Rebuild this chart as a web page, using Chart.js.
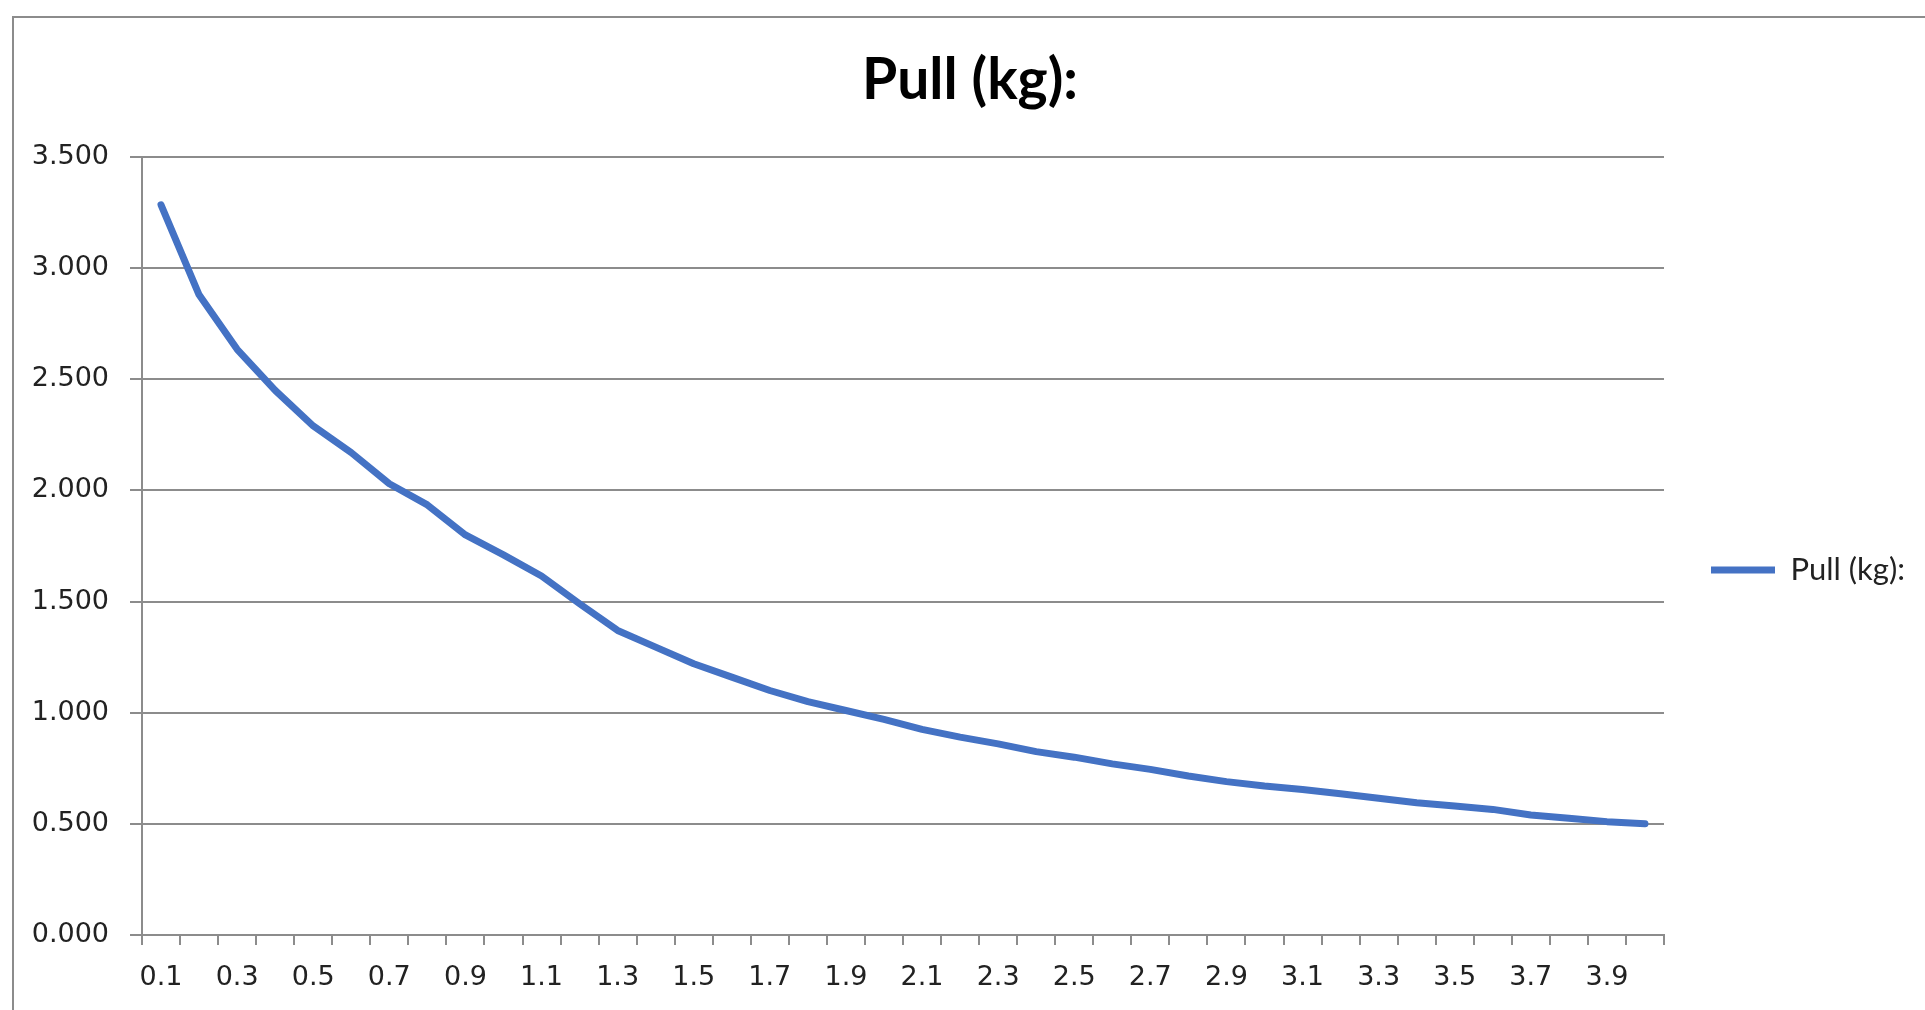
<!DOCTYPE html>
<html>
<head>
<meta charset="utf-8">
<script src="https://cdn.jsdelivr.net/npm/chart.js@4.4.1/dist/chart.umd.min.js"></script>
<style>
  html, body { margin: 0; padding: 0; background: #fff; overflow: hidden; }
  #marco { position: absolute; left: 12px; top: 16px; width: 2000px; height: 1100px; border: 2px solid #8c8c8c; box-sizing: border-box; }
  #lienzo { position: absolute; left: 0; top: 0; }
</style>
</head>
<body>
<div id="marco"></div>
<div id="lienzo" style="width:1925px;height:1010px;"><canvas id="grafico"></canvas></div>
<script>
// distancia (eje x) y fuerza de tiro
const distancias = ['0.1','0.2','0.3','0.4','0.5','0.6','0.7','0.8','0.9','1.0',
                    '1.1','1.2','1.3','1.4','1.5','1.6','1.7','1.8','1.9','2.0',
                    '2.1','2.2','2.3','2.4','2.5','2.6','2.7','2.8','2.9','3.0',
                    '3.1','3.2','3.3','3.4','3.5','3.6','3.7','3.8','3.9','4.0'];
const pull = [3.285, 2.88, 2.635, 2.45, 2.29, 2.17, 2.03, 1.935, 1.80, 1.71,
              1.615, 1.49, 1.37, 1.295, 1.22, 1.16, 1.10, 1.05, 1.01, 0.97,
              0.925, 0.89, 0.86, 0.825, 0.80, 0.77, 0.745, 0.715, 0.69, 0.67,
              0.655, 0.635, 0.615, 0.595, 0.58, 0.565, 0.54, 0.525, 0.51, 0.50];
const ticksY = [0, 0.5, 1, 1.5, 2, 2.5, 3, 3.5];

const gris = '#8c8c8c';
const fuenteTitulo = 'Lato, "Open Sans", sans-serif';
const fuenteEjes = '"DejaVu Sans", Verdana, sans-serif';

const ctx = document.getElementById('grafico').getContext('2d');
new Chart(ctx, {
    type: 'line',
    data: {
        labels: distancias,
        datasets: [{
            label: 'Pull (kg):',
            data: pull,
            borderColor: '#4472C4',
            backgroundColor: '#4472C4',
            borderWidth: 7,
            borderCapStyle: 'round',
            borderJoinStyle: 'round',
            pointRadius: 0,
            tension: 0
        }]
    },
    options: {
        responsive: true,
        maintainAspectRatio: false,
        animation: false,
        layout: { padding: { left: 25, right: 10, top: 20, bottom: 16 } },
        plugins: {
            title: {
                display: true,
                text: 'Pull (kg):',
                color: '#000',
                font: { family: fuenteTitulo, size: 57, weight: 'bold' },
                padding: { top: 26, bottom: 42.6 }
            },
            legend: {
                position: 'right',
                fullSize: false,
                // titulo vacio solo para bajar un poco la leyenda
                title: { display: true, text: ' ', font: { size: 20 }, padding: 12 },
                labels: {
                    usePointStyle: true,
                    pointStyle: 'line',
                    pointStyleWidth: 64,
                    padding: 47,
                    color: '#222',
                    font: { family: fuenteTitulo, size: 31 }
                }
            },
            tooltip: { enabled: false }
        },
        scales: {
            x: {
                offset: true,
                afterFit: function(s) { s.height = 59; },
                grid: { offset: true, drawOnChartArea: false, drawTicks: true, tickLength: 10, color: gris, lineWidth: 2 },
                border: { color: gris, width: 2 },
                ticks: {
                    autoSkip: false,
                    maxRotation: 0,
                    padding: 17,
                    color: '#222',
                    font: { family: fuenteEjes, size: 27 },
                    callback: function(v, i) { return i % 2 === 0 ? distancias[i] : ''; }
                }
            },
            y: {
                min: 0,
                max: 3.5,
                afterBuildTicks: function(s) { s.ticks = ticksY.map(v => ({ value: v })); },
                afterFit: function(s) { s.width = 117; },
                grid: { color: gris, lineWidth: 2, tickLength: 12 },
                border: { color: gris, width: 2 },
                ticks: {
                    padding: 21,
                    color: '#222',
                    font: { family: fuenteEjes, size: 27 },
                    callback: function(v) { return v.toFixed(3); }
                }
            }
        }
    }
});
</script>
</body>
</html>
